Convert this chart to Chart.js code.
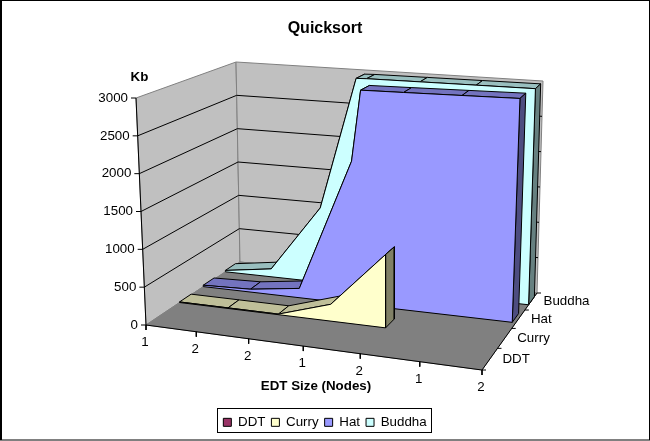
<!DOCTYPE html>
<html>
<head>
<meta charset="utf-8">
<title>Quicksort</title>
<script src="https://cdn.jsdelivr.net/npm/chart.js@4"></script>
<style>
    html, body { margin: 0; padding: 0; background: #fff; }
    canvas { display: block; }
</style>
</head>
<body>
<canvas id="quicksortChart" width="650" height="441"></canvas>
<script>
// Values
const categories = ['1', '2', '2', '1', '2', '1', '2'];
const seriesNames = ['DDT', 'Curry', 'Hat', 'Buddha'];
const kbTicks = [0, 500, 1000, 1500, 2000, 2500, 3000];

const ddtAt = [];
const ddtKb = [];
const curryAt = [0, 1, 2, 3, 4];
const curryKb = [8, 8, 8, 225, 970];
// Hat and Buddha have a corner between two labelled categories
const hatAt = [0, 1, 2, 3.05, 3.23, 4, 5, 5.94];
const hatKb = [20, 40, 130, 1970, 2960, 2970, 2985, 3000];
const buddhaAt = [0, 1, 2.05, 2.8, 3, 4, 5, 6];
const buddhaKb = [20, 115, 1070, 2970, 2975, 2980, 2985, 2990];

// Corners of the 3D box on screen
const floorCorners = [[146, 325], [482, 370], [537, 293], [240, 262]];
const topCorners = [[136, 98], [492, 128], [543, 81], [236, 62]];

const colours = {
    DDT: ['#993366', '#73264d', '#4d1a33'],
    Curry: ['#FFFFCC', '#BFBF99', '#808066'],
    Hat: ['#9999FF', '#7373BF', '#4D4D80'],
    Buddha: ['#CCFFFF', '#99BFBF', '#668080']
};

// Maps the unit square onto a four sided shape
function squareMap(c) {
    const dx1 = c[1][0] - c[2][0], dy1 = c[1][1] - c[2][1];
    const dx2 = c[3][0] - c[2][0], dy2 = c[3][1] - c[2][1];
    const sx = c[0][0] - c[1][0] + c[2][0] - c[3][0];
    const sy = c[0][1] - c[1][1] + c[2][1] - c[3][1];
    const det = dx1 * dy2 - dx2 * dy1;
    const g = (sx * dy2 - dx2 * sy) / det;
    const h = (dx1 * sy - sx * dy1) / det;
    return function(u, w) {
        const d = 1 + g * u + h * w;
        return [
            ((c[1][0] * (1 + g) - c[0][0]) * u + (c[3][0] * (1 + h) - c[0][0]) * w + c[0][0]) / d,
            ((c[1][1] * (1 + g) - c[0][1]) * u + (c[3][1] * (1 + h) - c[0][1]) * w + c[0][1]) / d
        ];
    };
}

const floorMap = squareMap(floorCorners);
const topMap = squareMap(topCorners);

function project(at, kb, depth) {
    const u = at / (categories.length - 1);
    const v = kb / kbTicks[kbTicks.length - 1];
    const a = floorMap(u, depth);
    const b = topMap(u, depth);
    return { x: a[0] + (b[0] - a[0]) * v, y: a[1] + (b[1] - a[1]) * v };
}

const datasets = [];

function addShape(points, fill, line, label) {
    datasets.push({
        label: label || '',
        data: points,
        showLine: true,
        pointRadius: 0,
        borderWidth: 1,
        tension: 0,
        clip: false,
        borderColor: line,
        backgroundColor: fill || 'transparent',
        closedFill: !!fill
    });
}

function closed(points) {
    return points.concat([points[0]]);
}

const yMax = kbTicks[kbTicks.length - 1];
const xMax = categories.length - 1;

// walls and floor
addShape(closed([project(0, 0, 0), project(0, yMax, 0), project(0, yMax, 1), project(0, 0, 1)]), '#C0C0C0', '#808080');
addShape(closed([project(0, 0, 1), project(0, yMax, 1), project(xMax, yMax, 1), project(xMax, 0, 1)]), '#C0C0C0', '#808080');
addShape(closed([project(0, 0, 0), project(xMax, 0, 0), project(xMax, 0, 1), project(0, 0, 1)]), '#808080', '#808080');

// gridlines
kbTicks.slice(1, -1).forEach(function(kb) {
    addShape([project(0, kb, 0), project(0, kb, 1), project(xMax, kb, 1)], null, '#000');
});

// axis lines and ticks
addShape([project(0, yMax, 0), project(0, 0, 0), project(xMax, 0, 0), project(xMax, 0, 1)], null, '#000');
kbTicks.forEach(function(kb) {
    const p = project(0, kb, 0);
    addShape([p, { x: p.x - 5, y: p.y }], null, '#000');
});
categories.forEach(function(c, i) {
    const p = project(i, 0, 0);
    addShape([p, { x: p.x, y: p.y + 5 }], null, '#000');
});
seriesNames.concat(['']).forEach(function(s, i) {
    const p = project(xMax, 0, i / seriesNames.length);
    addShape([p, { x: p.x + 4, y: p.y }], null, '#000');
});

function addSeries(name, slot, at, kb) {
    const front = (slot + 0.3) / seriesNames.length;
    const back = (slot + 0.78) / seriesNames.length;
    const c = colours[name];
    const last = at.length - 1;
    for (let i = 0; i < last; i++) {
        addShape(closed([
            project(at[i], kb[i], front), project(at[i + 1], kb[i + 1], front),
            project(at[i + 1], kb[i + 1], back), project(at[i], kb[i], back)
        ]), c[1], '#000');
    }
    addShape(closed([
        project(at[last], 0, front), project(at[last], kb[last], front),
        project(at[last], kb[last], back), project(at[last], 0, back)
    ]), c[2], '#000');
    const outline = [project(at[0], 0, front)];
    at.forEach(function(a, i) { outline.push(project(a, kb[i], front)); });
    outline.push(project(at[last], 0, front));
    addShape(closed(outline), c[0], '#000', name);
}

addSeries('Buddha', 3, buddhaAt, buddhaKb);
addSeries('Hat', 2, hatAt, hatKb);
addSeries('Curry', 1, curryAt, curryKb);
// DDT has no values on the picture, it is only in the legend
datasets.push({
    label: 'DDT', data: ddtAt.map(function(a, i) { return project(a, ddtKb[i], 0.075); }),
    showLine: true, pointRadius: 0, borderWidth: 1, borderColor: '#000', backgroundColor: colours.DDT[0]
});

// chart.js draws the first dataset on top, here the list runs back to front
datasets.forEach(function(d, i) { d.order = datasets.length - i; });

const boxPlugin = {
    id: 'box',
    // scales run in screen pixels so they match the projection above
    afterLayout(chart) {
        const area = chart.chartArea;
        const x = chart.scales.x, y = chart.scales.y;
        x.min = area.left; x.max = area.right; x.configure();
        y.min = area.top; y.max = area.bottom; y.configure();
    },
    beforeDatasetDraw(chart, args) {
        const d = chart.data.datasets[args.index];
        if (!d.closedFill) return;
        const ctx = chart.ctx;
        ctx.save();
        ctx.beginPath();
        args.meta.data.forEach(function(p, i) {
            if (i === 0) ctx.moveTo(p.x, p.y); else ctx.lineTo(p.x, p.y);
        });
        ctx.closePath();
        ctx.fillStyle = d.backgroundColor;
        ctx.fill();
        ctx.restore();
    },
    afterDraw(chart) {
        const ctx = chart.ctx;
        const sx = chart.scales.x, sy = chart.scales.y;
        function put(text, p, dx, dy, align, font) {
            ctx.font = font;
            ctx.textAlign = align;
            ctx.textBaseline = 'middle';
            ctx.fillStyle = '#000';
            ctx.fillText(text, sx.getPixelForValue(p.x) + dx, sy.getPixelForValue(p.y) + dy);
        }
        const small = '13.33px "Liberation Sans"';
        const bold = 'bold 13.33px "Liberation Sans"';
        ctx.save();
        kbTicks.forEach(function(kb) {
            put(String(kb), project(0, kb, 0), -8, 0, 'right', small);
        });
        categories.forEach(function(c, i) {
            put(c, project(i, 0, 0), -1, 17.5, 'center', small);
        });
        seriesNames.forEach(function(s, i) {
            put(s, project(xMax, 0, (i + 0.5) / seriesNames.length), 12.5, 0, 'left', small);
        });
        put('Kb', { x: 139.5, y: 77 }, 0, 0, 'center', bold);
        put('EDT Size (Nodes)', { x: 316, y: 386 }, 0, 0, 'center', bold);
        // legend frame and chart frame
        ctx.strokeStyle = '#000';
        ctx.lineWidth = 1;
        ctx.strokeRect(217.5, 408.5, 214, 24);
        ctx.strokeRect(0.5, 0.5, 649, 439.5);
        ctx.strokeRect(1.5, 0.5, 0, 439.5);
        ctx.restore();
    }
};

new Chart(document.getElementById('quicksortChart').getContext('2d'), {
    type: 'scatter',
    data: { datasets: datasets },
    plugins: [boxPlugin],
    options: {
        responsive: false,
        animation: false,
        events: [],
        layout: { padding: { bottom: 2 } },
        scales: {
            x: { type: 'linear', display: false, min: 0, max: 650 },
            y: { type: 'linear', display: false, reverse: true, min: 0, max: 441 }
        },
        plugins: {
            tooltip: { enabled: false },
            title: {
                display: true,
                text: 'Quicksort',
                color: '#000',
                padding: { top: 19, bottom: 10 },
                font: { family: '"Liberation Sans"', size: 16, weight: 'bold' }
            },
            legend: {
                position: 'bottom',
                labels: {
                    color: '#000',
                    boxWidth: 8,
                    boxHeight: 8,
                    padding: 6,
                    font: { family: '"Liberation Sans"', size: 13.33 },
                    filter: function(item) { return seriesNames.indexOf(item.text) >= 0; },
                    sort: function(a, b) { return seriesNames.indexOf(a.text) - seriesNames.indexOf(b.text); }
                }
            }
        }
    }
});
</script>
</body>
</html>
